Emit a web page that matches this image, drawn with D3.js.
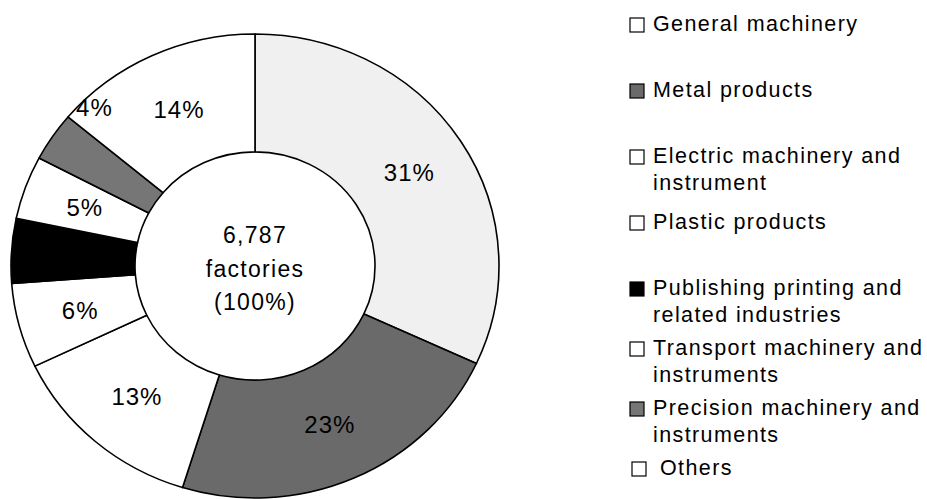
<!DOCTYPE html>
<html>
<head>
<meta charset="utf-8">
<script src="https://cdn.jsdelivr.net/npm/d3@7"></script>
<style>
  html, body { margin: 0; padding: 0; background: #ffffff; }
  svg { display: block; }
  text { font-family: "Liberation Sans", Arial, Helvetica, sans-serif; fill: #000; }
</style>
</head>
<body>
<svg id="chart" width="927" height="499"></svg>
<script>
// ---------------- data ----------------
const categories = [
  "General machinery",
  "Metal products",
  "Electric machinery and instrument",
  "Plastic products",
  "Publishing printing and related industries",
  "Transport machinery and instruments",
  "Precision machinery and instruments",
  "Others"
];
// shares (%)
const shares = [31.9, 22.9, 13.1, 5.9, 4.5, 4.4, 3.4, 13.9];
// printed slice labels
const pctLabels = ["31%", "23%", "13%", "6%", "4%", "5%", "4%", "14%"];
// legend text, wrapped as in the picture
const legendLines = [
  ["General machinery"],
  ["Metal products"],
  ["Electric machinery and", "instrument"],
  ["Plastic products"],
  ["Publishing printing and", "related industries"],
  ["Transport machinery and", "instruments"],
  ["Precision machinery and", "instruments"],
  ["Others"]
];
const centerLines = ["6,787", "factories", "(100%)"];

// ---------------- styles / layout ----------------
const fillColors = ["#f0f0f0", "#6a6a6a", "#ffffff", "#ffffff", "#000000", "#ffffff", "#767676", "#ffffff"];
const legendFills = ["#ffffff", "#6a6a6a", "#ffffff", "#ffffff", "#000000", "#ffffff", "#767676", "#ffffff"];
const color = d3.scaleOrdinal().domain(categories).range(fillColors);
const legendColor = d3.scaleOrdinal().domain(categories).range(legendFills);

const cx = 255, cy = 266;
const rOuter = 244, rInner = 120;
const yScale = 0.951;          // the scanned donut is slightly squashed vertically

const svg = d3.select("#chart");

const pie = d3.pie().sort(null).value(d => d.value).startAngle(0).endAngle(2 * Math.PI);
const data = categories.map((c, i) => ({ name: c, value: shares[i], label: pctLabels[i] }));
const arcs = pie(data);

const arc = d3.arc().innerRadius(rInner).outerRadius(rOuter);

const donut = svg.append("g")
  .attr("transform", `translate(${cx},${cy}) scale(1,${yScale})`);

donut.selectAll("path.slice")
  .data(arcs)
  .join("path")
  .attr("class", "slice")
  .attr("d", arc)
  .attr("fill", d => color(d.data.name))
  .attr("stroke", "#000")
  .attr("stroke-width", 1.6)
  .attr("stroke-linejoin", "round")
  .attr("vector-effect", "non-scaling-stroke");

// slice labels (positioned through the arc's centroid, then squashed like the donut)
const labelNudge = { 6: { angle: 0.21, radius: 232 } };
svg.append("g").selectAll("text.pct")
  .data(arcs)
  .join("text")
  .attr("class", "pct")
  .attr("text-anchor", "middle")
  .attr("dominant-baseline", "central")
  .style("font-size", "24px")
  .style("letter-spacing", "1px")
  .attr("transform", (d, i) => {
    let p;
    const n = labelNudge[i];
    if (n) {
      const a = (d.startAngle + d.endAngle) / 2 + n.angle;
      p = [Math.sin(a) * n.radius, -Math.cos(a) * n.radius];
    } else {
      p = arc.centroid(d);
    }
    return `translate(${cx + p[0] + 1},${cy + p[1] * yScale})`;
  })
  .text(d => d.data.label);

// center text
const centerBaselines = [243, 277, 310];
svg.append("g").selectAll("text.center")
  .data(centerLines)
  .join("text")
  .attr("class", "center")
  .attr("x", cx)
  .attr("y", (d, i) => centerBaselines[i])
  .attr("text-anchor", "middle")
  .style("font-size", "23px")
  .style("letter-spacing", "1.3px")
  .text(d => d);

// ---------------- legend ----------------
const legendBaselines = [31, 97, 163, 229, 295, 355, 415, 475];
const legendX = 630, textX = 653, box = 14, lineGap = 27;

const leg = svg.append("g").selectAll("g.item")
  .data(categories)
  .join("g")
  .attr("class", "item")
  .attr("transform", (d, i) => `translate(0,${legendBaselines[i]})`);

leg.append("rect")
  .attr("x", (d, i) => legendX + (i === 7 ? 2 : 0))
  .attr("y", -box + 1)
  .attr("width", box)
  .attr("height", box)
  .attr("fill", d => legendColor(d))
  .attr("stroke", "#000")
  .attr("stroke-width", 1.2);

leg.each(function (d, i) {
  const g = d3.select(this);
  legendLines[i].forEach((line, j) => {
    g.append("text")
      .attr("x", textX + (i === 7 ? 7 : 0))
      .attr("y", j * lineGap)
      .style("font-size", "21.5px")
      .style("letter-spacing", "1.4px")
      .text(line);
  });
});
</script>
</body>
</html>
